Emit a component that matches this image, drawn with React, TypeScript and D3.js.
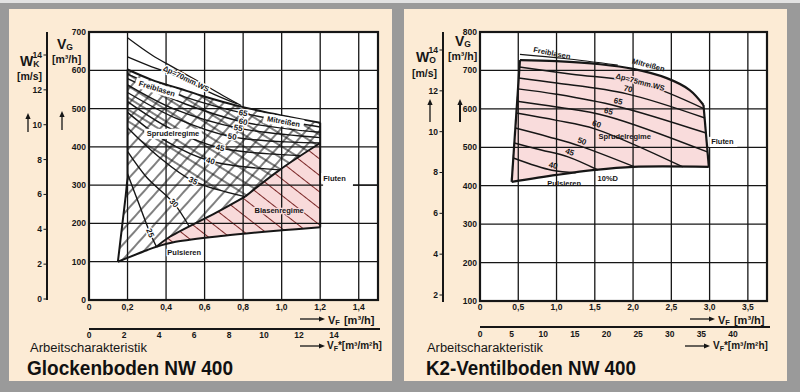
import React from 'react';
import * as d3 from 'd3';

type P = [number, number];

// ---------- Glockenboden NW 400 (left) ----------
const glVfTicks = [0, 0.2, 0.4, 0.6, 0.8, 1.0, 1.2, 1.4];
const glVgTicks = [0, 100, 200, 300, 400, 500, 600, 700];
const glWkTicks = [0, 2, 4, 6, 8, 10, 12, 14];
const glVfStarTicks = [0, 2, 4, 6, 8, 10, 12, 14];

const glTop: P[] = [[0.2, 602], [0.326, 575], [0.464, 553], [0.603, 531], [0.758, 509], [0.905, 492], [1.2, 463]];
const glCurveA: P[] = [[0.2, 685], [0.326, 640], [0.447, 605], [0.585, 566], [0.706, 531], [0.79, 508]];
const glCurveB: P[] = [[0.2, 635], [0.326, 609], [0.43, 590], [0.55, 561], [0.655, 536], [0.77, 512]];
const glBottom: P[] = [[0.15, 100], [0.3, 130], [0.35, 139], [0.45, 152], [0.7, 168], [1.0, 182], [1.2, 190]];
const glLeft: P[] = [[0.15, 100], [0.19, 270], [0.2, 320], [0.2, 450], [0.2, 602]];
const glPink: P[] = [[0.35, 139], [0.41, 162], [0.66, 228], [0.81, 270], [0.99, 340], [1.2, 410]];
const glRight: P[] = [[1.2, 463], [1.2, 410], [1.2, 190]];

const glContours: { label: string; pts: P[] }[] = [
  { label: '65', pts: [[0.2, 590], [0.5, 530], [0.8, 488], [1.2, 452]] },
  { label: '60', pts: [[0.2, 578], [0.5, 512], [0.8, 465], [1.2, 438]] },
  { label: '55', pts: [[0.2, 562], [0.45, 497], [0.774, 449], [1.2, 424]] },
  { label: '50', pts: [[0.2, 542], [0.45, 475], [0.743, 426], [1.2, 410]] },
  { label: '45', pts: [[0.2, 518], [0.42, 448], [0.68, 397], [1.1, 377]] },
  { label: '40', pts: [[0.2, 490], [0.4, 415], [0.63, 363], [0.99, 340]] },
  { label: '35', pts: [[0.2, 450], [0.36, 375], [0.54, 311], [0.81, 270]] },
  { label: '30', pts: [[0.2, 388], [0.3, 320], [0.44, 253], [0.52, 192]] },
  { label: '25', pts: [[0.2, 330], [0.26, 250], [0.317, 175], [0.35, 139]] },
];

const glTags = [
  { text: 'Δp=70mm WS', vf: 0.504, vg: 578, rot: 26, bg: false },
  { text: 'Freiblasen', vf: 0.353, vg: 552, rot: 17, bg: true },
  { text: 'Mitreißen', vf: 1.01, vg: 466, rot: 10, bg: true },
  { text: 'Sprudelregime', vf: 0.436, vg: 434, rot: 0, bg: true },
  { text: 'Blasenregime', vf: 0.987, vg: 235, rot: 0, bg: false },
  { text: 'Pulsieren', vf: 0.494, vg: 124, rot: 0, bg: false },
];

// ---------- K2-Ventilboden NW 400 (right) ----------
const vtVfTicks = [0, 0.5, 1.0, 1.5, 2.0, 2.5, 3.0, 3.5];
const vtVgTicks = [100, 200, 300, 400, 500, 600, 700, 800];
const vtWoTicks = [2, 4, 6, 8, 10, 12, 14];
const vtVfStarTicks = [0, 5, 10, 15, 20, 25, 30, 35, 40];

const vtTop: P[] = [[0.522, 727], [1.0, 724], [1.567, 716], [2.0, 704], [2.44, 680], [2.74, 649], [2.92, 610]];
const vtFreiblasen: P[] = [[0.522, 742], [1.1, 731], [1.8, 714]];
const vtRight: P[] = [[2.92, 610], [2.99, 449]];
const vtBottom: P[] = [[0.414, 410], [1.0, 428], [1.5, 441], [2.0, 449], [2.99, 449]];
const vtLeft: P[] = [[0.414, 410], [0.522, 727]];

const vtContours: { label: string; pts: P[]; at: number }[] = [
  { label: 'Δp=75mm WS', pts: [[0.514, 709], [1.2, 690], [2.09, 667], [2.93, 600]], at: 2 },
  { label: '70', pts: [[0.505, 680], [1.0, 667], [1.92, 639], [2.94, 576]], at: 2 },
  { label: '65', pts: [[0.495, 652], [1.0, 638], [1.79, 607], [2.955, 537]], at: 2 },
  { label: '65', pts: [[0.485, 620], [1.0, 605], [1.66, 581], [2.97, 488]], at: 2 },
  { label: '60', pts: [[0.474, 589], [1.0, 570], [1.5, 548], [2.65, 449]], at: 2 },
  { label: '50', pts: [[0.461, 550], [0.9, 527], [1.31, 503], [2.02, 449]], at: 2 },
  { label: '45', pts: [[0.448, 511], [0.8, 493], [1.15, 475], [1.54, 441]], at: 2 },
  { label: '40', pts: [[0.435, 472], [0.94, 440], [1.25, 434]], at: 1 },
];

const vtTags = [
  { text: 'Freiblasen', vf: 0.94, vg: 745, rot: 11 },
  { text: 'Mitreißen', vf: 2.2, vg: 714, rot: 15 },
  { text: 'Sprudelregime', vf: 1.89, vg: 527, rot: 0 },
  { text: 'Pulsieren', vf: 1.1, vg: 405, rot: 0 },
  { text: '10%D', vf: 1.67, vg: 420, rot: 0 },
];

const font = "'Liberation Sans', Arial, Helvetica, sans-serif";
const ink = '#161616';
const beige = '#fcebd5';
const pink = '#f9dcdc';

const fmt = (d: number) => (d === 0 ? '0' : d.toFixed(1).replace('.', ','));

const joinPath = (parts: (string | null)[]) =>
  parts.map((p, i) => (i === 0 ? p : 'L' + (p as string).slice(1))).join('') + 'Z';

const rev = (a: P[]) => [...a].reverse();

function Arrow({ x1, y1, x2, y2, w = 1.3 }: { x1: number; y1: number; x2: number; y2: number; w?: number }) {
  const a = Math.atan2(y2 - y1, x2 - x1);
  const L = 6, H = 2.6;
  const bx = x2 - L * Math.cos(a), by = y2 - L * Math.sin(a);
  const pts = [
    [x2, y2],
    [bx + H * Math.sin(a), by - H * Math.cos(a)],
    [bx - H * Math.sin(a), by + H * Math.cos(a)],
  ];
  return (
    <g>
      <line x1={x1} y1={y1} x2={bx} y2={by} stroke={ink} strokeWidth={w} />
      <polygon points={pts.map(p => p.join(',')).join(' ')} fill={ink} />
    </g>
  );
}

function Tag({ x, y, rot = 0, text, size = 7.5, bg, anchor = 'middle', halo }:
  { x: number; y: number; rot?: number; text: string; size?: number; bg?: string; anchor?: string; halo?: string }) {
  const w = text.length * size * 0.56 + 3;
  return (
    <g transform={`translate(${x},${y}) rotate(${rot})`}>
      {bg && <rect x={anchor === 'middle' ? -w / 2 : -2} y={-size * 0.68} width={w} height={size * 1.36} fill={bg} />}
      <text textAnchor={anchor as any} dominantBaseline="central" fontSize={size} fontWeight="bold"
        fontFamily={font} fill={ink}
        stroke={halo || 'none'} strokeWidth={halo ? 2.5 : 0} paintOrder="stroke">{text}</text>
    </g>
  );
}

function angleAt(pts: P[], i: number, x: (v: number) => number, y: (v: number) => number) {
  const a = pts[Math.max(0, i - 1)], b = pts[Math.min(pts.length - 1, i + 1)];
  return (Math.atan2(y(b[1]) - y(a[1]), x(b[0]) - x(a[0])) * 180) / Math.PI;
}

function Glockenboden() {
  const x = d3.scaleLinear().domain([0, 1.5]).range([89, 378]);
  const y = d3.scaleLinear().domain([0, 700]).range([300, 32]);
  const wk = d3.scaleLinear().domain([0, 14]).range([299, 55]);
  const star = d3.scaleLinear().domain([0, 14]).range([89, 334]);
  const C = d3.line<P>().x(d => x(d[0])).y(d => y(d[1])).curve(d3.curveCatmullRom);
  const S = d3.line<P>().x(d => x(d[0])).y(d => y(d[1]));

  const c35 = glContours.find(c => c.label === '35')!.pts;
  const pinkLow = glPink.slice(0, 4);
  const pinkHigh = glPink.slice(3);

  const pinkArea = joinPath([C(glPink), S(glRight.slice(1)), C(rev(glBottom.slice(2)))]);
  const lowArea = joinPath([C(glBottom.slice(0, 3)), C(pinkLow), C(rev(c35)), S(rev(glLeft.slice(0, 4)))]);
  const crossArea = joinPath([C(glTop), S(glRight.slice(0, 2)), C(rev(pinkHigh)), C(rev(c35)), S(glLeft.slice(3))]);

  return (
    <g fontFamily={font}>
      <rect x={x(0)} y={y(700)} width={x(1.5) - x(0)} height={y(0) - y(700)} fill="#fff" />
      <path d={pinkArea} fill="#f8dada" />
      <path d={pinkArea} fill="url(#pinkHatch)" />
      <path d={lowArea} fill="url(#hatchUp)" />
      <path d={crossArea} fill="url(#hatchUp)" />
      <path d={crossArea} fill="url(#hatchDown)" />

      {glVfTicks.slice(1).map(t => (
        <line key={'gv' + t} x1={x(t)} x2={x(t)} y1={y(0)} y2={y(700)} stroke={ink} strokeWidth={1.3} />
      ))}
      {glVgTicks.slice(1, -1).map(t => (
        <line key={'gh' + t} x1={x(0)} x2={x(1.5)} y1={y(t)} y2={y(t)} stroke={ink} strokeWidth={1.3} />
      ))}

      {glContours.map(c => (
        <path key={'c' + c.label} d={C(c.pts)!} fill="none" stroke={ink} strokeWidth={1.4} />
      ))}
      <path d={C(glCurveA)!} fill="none" stroke={ink} strokeWidth={1.3} />
      <path d={C(glCurveB)!} fill="none" stroke={ink} strokeWidth={1.3} />
      <path d={C(glTop)!} fill="none" stroke={ink} strokeWidth={2} />
      <path d={S(glLeft)!} fill="none" stroke={ink} strokeWidth={2} />
      <path d={S(glRight)!} fill="none" stroke={ink} strokeWidth={2} />
      <path d={C(glBottom)!} fill="none" stroke={ink} strokeWidth={2} />
      <path d={C(pinkLow)!} fill="none" stroke={ink} strokeWidth={2} />
      <path d={C(pinkHigh)!} fill="none" stroke={ink} strokeWidth={2} />

      {glContours.map(c => (
        <Tag key={'l' + c.label} x={x(c.pts[2][0])} y={y(c.pts[2][1])} rot={angleAt(c.pts, 2, x, y)}
          text={c.label} size={8} halo="#fff" />
      ))}
      {glTags.map(t => (
        <Tag key={t.text} x={x(t.vf)} y={y(t.vg)} rot={t.rot} text={t.text}
          bg={t.bg ? '#fff' : undefined} halo={t.bg ? undefined : (t.text === 'Blasenregime' ? '#f8dada' : '#fff')} />
      ))}
      <Tag x={x(1.216)} y={y(300) - 7} text="Fluten" anchor="start" bg="#fff" />
      <line x1={x(1.215)} x2={x(1.37)} y1={y(300)} y2={y(300)} stroke="#fff" strokeWidth={3} />
      <line x1={x(1.37)} x2={x(1.5)} y1={y(300)} y2={y(300)} stroke={ink} strokeWidth={1.3} />

      <rect x={x(0)} y={y(700)} width={x(1.5) - x(0)} height={y(0) - y(700)} fill="none" stroke={ink} strokeWidth={2.2} />

      {glVgTicks.map(t => (
        <text key={'gyl' + t} x={x(0) - 3} y={y(t)} dy="0.35em" textAnchor="end" fontSize={8.5} fontWeight="bold" fill={ink}>{t}</text>
      ))}
      {glVfTicks.map(t => (
        <text key={'gxl' + t} x={x(t)} y={310} textAnchor="middle" fontSize={8.5} fontWeight="bold" fill={ink}>{fmt(t)}</text>
      ))}

      <line x1={47} x2={47} y1={32} y2={300} stroke={ink} strokeWidth={2} />
      {glWkTicks.map(t => (
        <g key={'wk' + t}>
          <line x1={43.5} x2={47} y1={wk(t)} y2={wk(t)} stroke={ink} strokeWidth={1} />
          <text x={42} y={wk(t)} dy="0.35em" textAnchor="end" fontSize={8.5} fontWeight="bold" fill={ink}>{t}</text>
        </g>
      ))}

      <line x1={star(0)} x2={380} y1={329} y2={329} stroke={ink} strokeWidth={2} />
      {glVfStarTicks.map(t => (
        <text key={'st' + t} x={star(t)} y={338} textAnchor="middle" fontSize={8.5} fontWeight="bold" fill={ink}>{t}</text>
      ))}

      <text x={20} y={66} fontSize={14} fontWeight="bold" fill={ink}>W<tspan fontSize={8.5} dy={1}>K</tspan></text>
      <text x={17} y={80} fontSize={10.5} fontWeight="bold" fill={ink}>[m/s]</text>
      <Arrow x1={28} y1={132} x2={28} y2={113} />
      <text x={57} y={49} fontSize={14} fontWeight="bold" fill={ink}>V<tspan fontSize={8.5} dy={1}>G</tspan></text>
      <text x={52} y={63} fontSize={10.5} fontWeight="bold" fill={ink}>[m³/h]</text>
      <Arrow x1={62} y1={130} x2={62} y2={111} />

      <Arrow x1={300} y1={319} x2={325} y2={319} />
      <text x={328} y={323.5} fontSize={11} fontWeight="bold" fill={ink}>V<tspan fontSize={7.5} dy={1.5}>F</tspan><tspan dy={-1.5} dx={4}>[m³/h]</tspan></text>
      <Arrow x1={300} y1={346} x2={325} y2={346} />
      <text x={327} y={349} fontSize={10} fontWeight="bold" fill={ink}>V<tspan fontSize={7} dy={2}>F</tspan><tspan dy={-2}>*[m³/m²h]</tspan></text>

      <text x={30} y={352} fontSize={12.5} fill={ink} textLength={117} lengthAdjust="spacingAndGlyphs">Arbeitscharakteristik</text>
      <text x={27} y={375} fontSize={19.5} fontWeight="bold" fill="#111" textLength={206} lengthAdjust="spacingAndGlyphs">Glockenboden NW 400</text>
    </g>
  );
}

function Ventilboden() {
  const x = d3.scaleLinear().domain([0, 3.75]).range([480, 767]);
  const y = d3.scaleLinear().domain([100, 800]).range([301, 32]);
  const wo = d3.scaleLinear().domain([2, 14]).range([295, 50]);
  const star = d3.scaleLinear().domain([0, 40]).range([480, 733]);
  const C = d3.line<P>().x(d => x(d[0])).y(d => y(d[1])).curve(d3.curveCatmullRom);
  const S = d3.line<P>().x(d => x(d[0])).y(d => y(d[1]));

  const area = joinPath([C(vtTop), S(vtRight), C(rev(vtBottom)), S(vtLeft)]);

  return (
    <g fontFamily={font}>
      <rect x={x(0)} y={y(800)} width={x(3.75) - x(0)} height={y(100) - y(800)} fill="#fff" />
      <path d={area} fill={pink} />

      {vtVfTicks.slice(1).map(t => (
        <line key={'vv' + t} x1={x(t)} x2={x(t)} y1={y(100)} y2={y(800)} stroke={ink} strokeWidth={1.3} />
      ))}
      {vtVgTicks.slice(1, -1).map(t => (
        <line key={'vh' + t} x1={x(0)} x2={x(3.75)} y1={y(t)} y2={y(t)} stroke={ink} strokeWidth={1.3} />
      ))}

      {vtContours.map((c, i) => (
        <path key={'vc' + i} d={C(c.pts)!} fill="none" stroke={ink} strokeWidth={1.5} />
      ))}
      <path d={C(vtFreiblasen)!} fill="none" stroke={ink} strokeWidth={1.2} />
      <path d={C(vtTop)!} fill="none" stroke={ink} strokeWidth={2.2} />
      <path d={S(vtRight)!} fill="none" stroke={ink} strokeWidth={2.2} />
      <path d={C(vtBottom)!} fill="none" stroke={ink} strokeWidth={2.2} />
      <path d={S(vtLeft)!} fill="none" stroke={ink} strokeWidth={2.2} />

      {vtContours.map((c, i) => {
        const rot = angleAt(c.pts, c.at, x, y);
        const r = (rot * Math.PI) / 180;
        const off = c.label.length > 3 ? 1 : 5;
        const px = x(c.pts[c.at][0]) + off * Math.sin(r);
        const py = y(c.pts[c.at][1]) - off * Math.cos(r);
        return <Tag key={'vl' + i} x={px} y={py} rot={rot} text={c.label} size={c.label.length > 3 ? 7.5 : 8}
          halo={c.label.length > 3 ? pink : undefined} />;
      })}
      {vtTags.map(t => (
        <Tag key={t.text} x={x(t.vf)} y={y(t.vg)} rot={t.rot} text={t.text} />
      ))}
      <Tag x={x(3.02)} y={y(514)} text="Fluten" anchor="start" bg="#fff" />

      <rect x={x(0)} y={y(800)} width={x(3.75) - x(0)} height={y(100) - y(800)} fill="none" stroke={ink} strokeWidth={2.2} />

      {vtVgTicks.map(t => (
        <text key={'vyl' + t} x={x(0) - 3} y={y(t)} dy="0.35em" textAnchor="end" fontSize={8.5} fontWeight="bold" fill={ink}>{t}</text>
      ))}
      {vtVfTicks.map(t => (
        <text key={'vxl' + t} x={x(t)} y={310} textAnchor="middle" fontSize={8.5} fontWeight="bold" fill={ink}>{fmt(t)}</text>
      ))}

      <line x1={443} x2={443} y1={32} y2={302} stroke={ink} strokeWidth={2} />
      {vtWoTicks.map(t => (
        <g key={'wo' + t}>
          <line x1={439.5} x2={443} y1={wo(t)} y2={wo(t)} stroke={ink} strokeWidth={1} />
          <text x={438} y={wo(t)} dy="0.35em" textAnchor="end" fontSize={8.5} fontWeight="bold" fill={ink}>{t}</text>
        </g>
      ))}

      <line x1={star(0)} x2={770} y1={327} y2={327} stroke={ink} strokeWidth={2} />
      {vtVfStarTicks.map(t => (
        <text key={'vs' + t} x={star(t)} y={337} textAnchor="middle" fontSize={8.5} fontWeight="bold" fill={ink}>{t}</text>
      ))}

      <text x={416} y={62} fontSize={14} fontWeight="bold" fill={ink}>W<tspan fontSize={8.5} dy={1}>O</tspan></text>
      <text x={412} y={77} fontSize={10.5} fontWeight="bold" fill={ink}>[m/s]</text>
      <Arrow x1={430} y1={122} x2={430} y2={99} />
      <text x={455} y={46} fontSize={14} fontWeight="bold" fill={ink}>V<tspan fontSize={8.5} dy={1}>G</tspan></text>
      <text x={448} y={60} fontSize={10.5} fontWeight="bold" fill={ink}>[m³/h]</text>
      <Arrow x1={460} y1={122} x2={460} y2={99} w={2} />

      <Arrow x1={690} y1={319} x2={715} y2={319} />
      <text x={718} y={323.5} fontSize={11} fontWeight="bold" fill={ink}>V<tspan fontSize={7.5} dy={1.5}>F</tspan><tspan dy={-1.5} dx={4}>[m³/h]</tspan></text>
      <Arrow x1={685} y1={346} x2={710} y2={346} />
      <text x={713} y={349} fontSize={10} fontWeight="bold" fill={ink}>V<tspan fontSize={7} dy={2}>F</tspan><tspan dy={-2}>*[m³/m²h]</tspan></text>

      <text x={427} y={352} fontSize={12.5} fill={ink} textLength={116} lengthAdjust="spacingAndGlyphs">Arbeitscharakteristik</text>
      <text x={426} y={375} fontSize={19.5} fontWeight="bold" fill="#111" textLength={210} lengthAdjust="spacingAndGlyphs">K2-Ventilboden NW 400</text>
    </g>
  );
}

export default function App() {
  return (
    <svg width={800} height={392} viewBox="0 0 800 392" style={{ position: 'fixed', left: 0, top: 0, display: 'block' }}>
      <defs>
        <pattern id="hatchUp" width={10} height={10} patternUnits="userSpaceOnUse" patternTransform="rotate(-48)">
          <line x1={0} y1={5} x2={10} y2={5} stroke={ink} strokeWidth={1.1} />
        </pattern>
        <pattern id="hatchDown" width={10} height={10} patternUnits="userSpaceOnUse" patternTransform="rotate(32)">
          <line x1={0} y1={5} x2={10} y2={5} stroke={ink} strokeWidth={1.1} />
        </pattern>
        <pattern id="pinkHatch" width={14} height={13} patternUnits="userSpaceOnUse" patternTransform="rotate(38)">
          <line x1={0} y1={6.5} x2={14} y2={6.5} stroke="#7a2626" strokeWidth={1} />
        </pattern>
      </defs>
      <rect width={800} height={392} fill="#9a9a9a" />
      <rect x={0} y={0} width={800} height={3} fill="#e2e2e2" />
      <rect x={9} y={9} width={383} height={372} fill={beige} />
      <rect x={404} y={9} width={383} height={372} fill={beige} />
      <Glockenboden />
      <Ventilboden />
    </svg>
  );
}
